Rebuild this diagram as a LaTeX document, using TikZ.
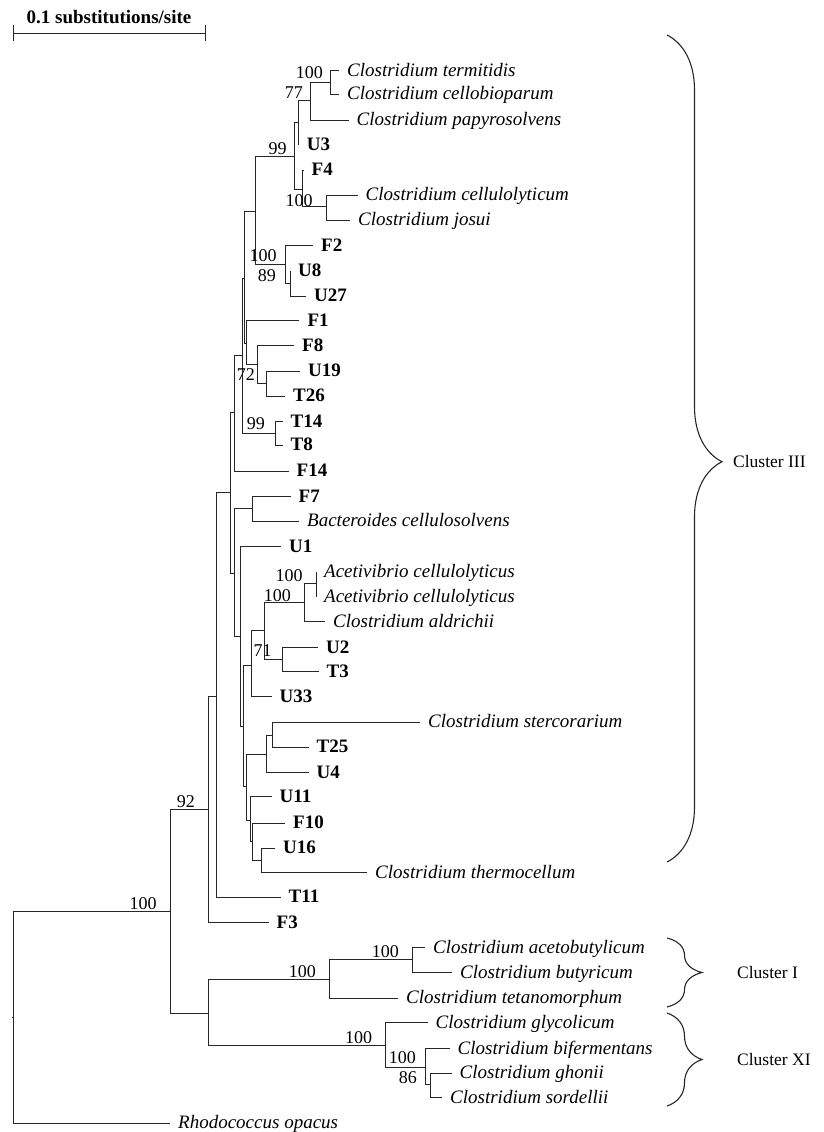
\documentclass[tikz,border=0pt]{standalone}
\usepackage{fontspec}
\setmainfont{Liberation Serif}
\usetikzlibrary{decorations.pathreplacing}

\begin{document}
\begin{tikzpicture}[x=1pt,y=-1pt,
    branch/.style={draw=black!85, line width=0.9pt},
    taxon/.style={anchor=base west, inner sep=0pt, xshift=8pt, yshift=-5.5pt, font=\fontsize{19}{22}\selectfont\itshape},
    clone/.style={anchor=base west, inner sep=0pt, xshift=8pt, yshift=-5.5pt, font=\fontsize{19}{22}\selectfont\bfseries},
    boot/.style={anchor=base east, inner sep=0pt, font=\fontsize{18}{20}\selectfont},
    cbrace/.style={draw=black!85, line width=1.1pt, decorate},
    cluster/.style={anchor=west, inner sep=0pt, font=\fontsize{17.5}{20}\selectfont}]
    \useasboundingbox (0,0) rectangle (823,1132);

    % Scale bar
    \coordinate (barL) at (13,33);
    \coordinate (barR) at (205,33);
    \draw[branch] (barL) -- (barR);
    \draw[branch] (barL) ++(0,-8) -- ++(0,16);
    \draw[branch] (barR) ++(0,-8) -- ++(0,16);
    \node[anchor=base west, inner sep=0pt, font=\fontsize{19}{22}\selectfont\bfseries] (barlabel) at (26.5,24) {0.1 substitutions/site};

    % Internal nodes
    \coordinate (root) at (13.5,1017);
    \coordinate (nIn) at (170.4,911);
    \coordinate (n92) at (208.3,809);
    \coordinate (nZ1) at (216.7,696);
    \coordinate (nW) at (230.7,492.7);
    \coordinate (nV) at (234.7,412.7);
    \coordinate (nR) at (242,355);
    \coordinate (nS) at (244.7,278);
    \coordinate (nP) at (255.5,211.7);
    \coordinate (n99) at (294,156.7);
    \coordinate (nX) at (298.7,122.7);
    \coordinate (n77) at (310.7,100.7);
    \coordinate (nA) at (330.7,82);
    \coordinate (nY) at (302.7,189.3);
    \coordinate (nZ) at (326,206.7);
    \coordinate (nB) at (285,264.3);
    \coordinate (nC) at (290,283);
    \coordinate (nU) at (246.3,343);
    \coordinate (nD) at (257.3,364.3);
    \coordinate (nE) at (266.7,383.5);
    \coordinate (nG) at (275,433.3);
    \coordinate (nX2) at (234.3,573.3);
    \coordinate (nF7) at (252.3,508.3);
    \coordinate (nY2) at (240.3,636.7);
    \coordinate (nAE) at (243.5,726.7);
    \coordinate (nAD) at (251,665);
    \coordinate (nAC) at (264.3,630.7);
    \coordinate (nAB) at (304.3,602.7);
    \coordinate (nAA) at (316,583.3);
    \coordinate (nU2) at (282,659.3);
    \coordinate (nAH) at (246.7,786.7);
    \coordinate (nAI) at (266,754.3);
    \coordinate (nAJ) at (272.3,735);
    \coordinate (nAK) at (250,820);
    \coordinate (nAL) at (252.7,841.7);
    \coordinate (nAM) at (261,860);
    \coordinate (nCl) at (208.5,1013.3);
    \coordinate (nCI) at (329.6,979.4);
    \coordinate (nAcb) at (412.7,959.4);
    \coordinate (nCXI) at (385.8,1045.4);
    \coordinate (nBif) at (425,1067.7);
    \coordinate (nGh) at (430.8,1084.4);

    % Leaf tips
    \coordinate (termitidis) at (339,70.7);
    \coordinate (cellobioparum) at (339,94.3);
    \coordinate (papyrosolvens) at (348.5,120);
    \coordinate (U3) at (298.7,145);
    \coordinate (F4) at (303.5,170);
    \coordinate (cellulolyticum) at (357.5,195);
    \coordinate (josui) at (350,220);
    \coordinate (F2) at (313,245.7);
    \coordinate (U8) at (290,270.7);
    \coordinate (U27) at (306,296);
    \coordinate (F1) at (299.3,320.7);
    \coordinate (F8) at (294,345.7);
    \coordinate (U19) at (300,371);
    \coordinate (T26) at (285,396);
    \coordinate (T14) at (282.5,421.7);
    \coordinate (T8) at (282.5,445);
    \coordinate (F14) at (288.5,471);
    \coordinate (F7) at (290.5,496.7);
    \coordinate (cellulosolvens) at (299,521);
    \coordinate (U1) at (281,546.7);
    \coordinate (acetiA) at (316,571.7);
    \coordinate (acetiB) at (316,596.7);
    \coordinate (aldrichii) at (325,621.7);
    \coordinate (U2) at (318,647.7);
    \coordinate (T3) at (318.5,671.7);
    \coordinate (U33) at (271.5,696.7);
    \coordinate (stercorarium) at (420,722.3);
    \coordinate (T25) at (308.5,747.3);
    \coordinate (U4) at (308.5,772.7);
    \coordinate (U11) at (271.5,796.7);
    \coordinate (F10) at (285,823.3);
    \coordinate (U16) at (275,848.3);
    \coordinate (thermocellum) at (367,872.7);
    \coordinate (T11) at (280.5,897.3);
    \coordinate (F3) at (268.5,922.7);
    \coordinate (acetobutylicum) at (425,947.7);
    \coordinate (butyricum) at (452,972.7);
    \coordinate (tetanomorphum) at (398,998.4);
    \coordinate (glycolicum) at (427.5,1022.7);
    \coordinate (bifermentans) at (449.5,1048.7);
    \coordinate (ghonii) at (451.5,1073.4);
    \coordinate (sordellii) at (442,1097.7);
    \coordinate (opacus) at (170,1123.4);

    % Branches
    \draw[branch] (root) -- ++(-2,0);
    \draw[branch] (root) |- (nIn);   \draw[branch] (root) |- (opacus);
    \draw[branch] (nIn) |- (n92);    \draw[branch] (nIn) |- (nCl);
    \draw[branch] (n92) |- (nZ1);    \draw[branch] (n92) |- (F3);
    \draw[branch] (nZ1) |- (nW);     \draw[branch] (nZ1) |- (T11);
    \draw[branch] (nW) |- (nV);      \draw[branch] (nW) |- (nX2);
    \draw[branch] (nV) |- (nR);      \draw[branch] (nV) |- (F14);
    \draw[branch] (nR) |- (nS);      \draw[branch] (nR) |- (nG);
    \draw[branch] (nS) |- (nP);      \draw[branch] (nS) |- (nU);
    \draw[branch] (nP) |- (n99);     \draw[branch] (nP) |- (nB);
    \draw[branch] (n99) |- (nX);     \draw[branch] (n99) |- (nY);
    \draw[branch] (nX) |- (n77);     \draw[branch] (nX) |- (U3);
    \draw[branch] (n77) |- (nA);     \draw[branch] (n77) |- (papyrosolvens);
    \draw[branch] (nA) |- (termitidis); \draw[branch] (nA) |- (cellobioparum);
    \draw[branch] (nY) |- (F4);      \draw[branch] (nY) |- (nZ);
    \draw[branch] (nZ) |- (cellulolyticum); \draw[branch] (nZ) |- (josui);
    \draw[branch] (nB) |- (F2);      \draw[branch] (nB) |- (nC);
    \draw[branch] (nC) |- (U8);      \draw[branch] (nC) |- (U27);
    \draw[branch] (nU) |- (F1);      \draw[branch] (nU) |- (nD);
    \draw[branch] (nD) |- (F8);      \draw[branch] (nD) |- (nE);
    \draw[branch] (nE) |- (U19);     \draw[branch] (nE) |- (T26);
    \draw[branch] (nG) |- (T14);     \draw[branch] (nG) |- (T8);
    \draw[branch] (nX2) |- (nF7);    \draw[branch] (nX2) |- (nY2);
    \draw[branch] (nF7) |- (F7);     \draw[branch] (nF7) |- (cellulosolvens);
    \draw[branch] (nY2) |- (U1);     \draw[branch] (nY2) |- (nAE);
    \draw[branch] (nAE) |- (nAD);    \draw[branch] (nAE) |- (nAH);
    \draw[branch] (nAD) |- (nAC);    \draw[branch] (nAD) |- (U33);
    \draw[branch] (nAC) |- (nAB);    \draw[branch] (nAC) |- (nU2);
    \draw[branch] (nAB) |- (nAA);    \draw[branch] (nAB) |- (aldrichii);
    \draw[branch] (nAA) |- (acetiA); \draw[branch] (nAA) |- (acetiB);
    \draw[branch] (nU2) |- (U2);     \draw[branch] (nU2) |- (T3);
    \draw[branch] (nAH) |- (nAI);    \draw[branch] (nAH) |- (nAK);
    \draw[branch] (nAI) |- (nAJ);    \draw[branch] (nAI) |- (U4);
    \draw[branch] (nAJ) |- (stercorarium); \draw[branch] (nAJ) |- (T25);
    \draw[branch] (nAK) |- (U11);    \draw[branch] (nAK) |- (nAL);
    \draw[branch] (nAL) |- (F10);    \draw[branch] (nAL) |- (nAM);
    \draw[branch] (nAM) |- (U16);    \draw[branch] (nAM) |- (thermocellum);
    \draw[branch] (nCl) |- (nCI);    \draw[branch] (nCl) |- (nCXI);
    \draw[branch] (nCI) |- (nAcb);   \draw[branch] (nCI) |- (tetanomorphum);
    \draw[branch] (nAcb) |- (acetobutylicum); \draw[branch] (nAcb) |- (butyricum);
    \draw[branch] (nCXI) |- (glycolicum); \draw[branch] (nCXI) |- (nBif);
    \draw[branch] (nBif) |- (bifermentans); \draw[branch] (nBif) |- (nGh);
    \draw[branch] (nGh) |- (ghonii); \draw[branch] (nGh) |- (sordellii);

    % Leaf labels
    \node[taxon] (termitidisL) at (termitidis) {Clostridium termitidis};
    \node[taxon] (cellobioparumL) at (cellobioparum) {Clostridium cellobioparum};
    \node[taxon] (papyrosolvensL) at (papyrosolvens) {Clostridium papyrosolvens};
    \node[clone] (U3L) at (U3) {U3};
    \node[clone] (F4L) at (F4) {F4};
    \node[taxon] (cellulolyticumL) at (cellulolyticum) {Clostridium cellulolyticum};
    \node[taxon] (josuiL) at (josui) {Clostridium josui};
    \node[clone] (F2L) at (F2) {F2};
    \node[clone] (U8L) at (U8) {U8};
    \node[clone] (U27L) at (U27) {U27};
    \node[clone] (F1L) at (F1) {F1};
    \node[clone] (F8L) at (F8) {F8};
    \node[clone] (U19L) at (U19) {U19};
    \node[clone] (T26L) at (T26) {T26};
    \node[clone] (T14L) at (T14) {T14};
    \node[clone] (T8L) at (T8) {T8};
    \node[clone] (F14L) at (F14) {F14};
    \node[clone] (F7L) at (F7) {F7};
    \node[taxon] (cellulosolvensL) at (cellulosolvens) {Bacteroides cellulosolvens};
    \node[clone] (U1L) at (U1) {U1};
    \node[taxon] (acetiAL) at (acetiA) {Acetivibrio cellulolyticus};
    \node[taxon] (acetiBL) at (acetiB) {Acetivibrio cellulolyticus};
    \node[taxon] (aldrichiiL) at (aldrichii) {Clostridium aldrichii};
    \node[clone] (U2L) at (U2) {U2};
    \node[clone] (T3L) at (T3) {T3};
    \node[clone] (U33L) at (U33) {U33};
    \node[taxon] (stercorariumL) at (stercorarium) {Clostridium stercorarium};
    \node[clone] (T25L) at (T25) {T25};
    \node[clone] (U4L) at (U4) {U4};
    \node[clone] (U11L) at (U11) {U11};
    \node[clone] (F10L) at (F10) {F10};
    \node[clone] (U16L) at (U16) {U16};
    \node[taxon] (thermocellumL) at (thermocellum) {Clostridium thermocellum};
    \node[clone] (T11L) at (T11) {T11};
    \node[clone] (F3L) at (F3) {F3};
    \node[taxon] (acetobutylicumL) at (acetobutylicum) {Clostridium acetobutylicum};
    \node[taxon] (butyricumL) at (butyricum) {Clostridium butyricum};
    \node[taxon] (tetanomorphumL) at (tetanomorphum) {Clostridium tetanomorphum};
    \node[taxon] (glycolicumL) at (glycolicum) {Clostridium glycolicum};
    \node[taxon] (bifermentansL) at (bifermentans) {Clostridium bifermentans};
    \node[taxon] (ghoniiL) at (ghonii) {Clostridium ghonii};
    \node[taxon] (sordelliiL) at (sordellii) {Clostridium sordellii};
    \node[taxon] (opacusL) at (opacus) {Rhodococcus opacus};

    % Bootstrap values
    \node[boot] (bA) at (323,78.7) {100};
    \node[boot] (b77) at (303,98.7) {77};
    \node[boot] (b99) at (286.7,154.3) {99};
    \node[boot] (bY) at (312.7,206) {100};
    \node[boot] (bP) at (276.7,261) {100};
    \node[boot] (b89) at (276,281) {89};
    \node[boot] (b72) at (255,380) {72};
    \node[boot] (bG) at (265,429.3) {99};
    \node[boot] (bAA) at (302.7,581.7) {100};
    \node[boot] (bAB) at (291,601) {100};
    \node[boot] (b71) at (271.7,656.7) {71};
    \node[boot] (b92) at (195,807.5) {92};
    \node[boot] (bIn) at (156.7,909.5) {100};
    \node[boot] (bCI) at (316,977.5) {100};
    \node[boot] (bAcb) at (399,957.5) {100};
    \node[boot] (bCXI) at (372.3,1043) {100};
    \node[boot] (bBif) at (416,1063.7) {100};
    \node[boot] (b86) at (417,1083.7) {86};

    % Cluster braces
    \draw[cbrace, decoration={brace, amplitude=55pt, aspect=0.516}] (667,35) -- (667,862);
    \node[cluster] (clIII) at (733,462) {Cluster III};
    \draw[cbrace, decoration={brace, amplitude=35pt}] (667,938) -- (667,1007);
    \node[cluster] (clI) at (737,972.5) {Cluster I};
    \draw[cbrace, decoration={brace, amplitude=35pt}] (667,1013) -- (667,1106);
    \node[cluster] (clXI) at (737,1059.5) {Cluster XI};
\end{tikzpicture}
\end{document}
